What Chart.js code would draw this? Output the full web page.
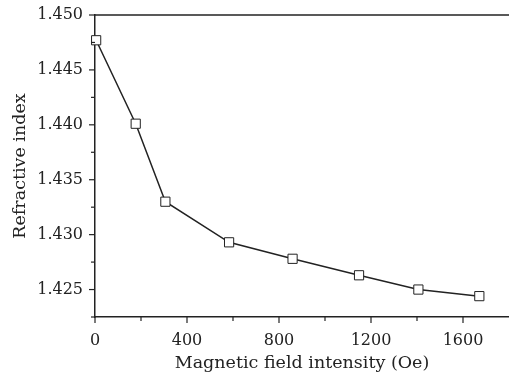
<!DOCTYPE html>
<html>
<head>
<meta charset="utf-8">
<script src="https://cdn.jsdelivr.net/npm/chart.js@4/dist/chart.umd.min.js"></script>
<style>
  html, body { margin: 0; padding: 0; background: #fff; }
  #wrap { width: 509px; height: 377px; }
</style>
</head>
<body>
<div id="wrap"><canvas id="myChart"></canvas></div>
<script>
// data
const fieldOe = [5, 177, 306, 583, 859, 1148, 1406, 1671];
const refIndex = [1.4477, 1.4401, 1.4330, 1.4293, 1.4278, 1.4263, 1.4250, 1.4244];

const xTitle = 'Magnetic field intensity (Oe)';
const yTitle = 'Refractive index';

const ink = '#222';
const tickFont = { family: '"DejaVu Serif", "Liberation Serif", serif', size: 16 };
const titleFont = { family: '"DejaVu Serif", "Liberation Serif", serif', size: 17.5 };

const isMajor = (v, step) => Math.abs(v / step - Math.round(v / step)) < 1e-6;

// outward tick marks (long on labelled ticks, short otherwise) + top frame line
const frame = {
    id: 'frame',
    afterDraw(chart) {
        const ctx = chart.ctx;
        const area = chart.chartArea;
        const xs = chart.scales.x, ys = chart.scales.y;
        ctx.save();
        ctx.strokeStyle = ink;
        ctx.lineWidth = 1.5;
        ctx.beginPath();
        ctx.moveTo(area.left, area.top);
        ctx.lineTo(chart.width, area.top);
        ctx.stroke();
        ctx.lineWidth = 1.2;
        xs.ticks.forEach(t => {
            if (t.value >= xs.max) return; // right edge, cut off in the original
            const px = xs.getPixelForValue(t.value);
            const len = isMajor(t.value, 400) ? 6 : 4;
            ctx.beginPath();
            ctx.moveTo(px, area.bottom);
            ctx.lineTo(px, area.bottom + len);
            ctx.stroke();
        });
        ys.ticks.forEach(t => {
            const py = ys.getPixelForValue(t.value);
            const len = isMajor(t.value, 0.005) ? 6 : 4;
            ctx.beginPath();
            ctx.moveTo(area.left, py);
            ctx.lineTo(area.left - len, py);
            ctx.stroke();
        });
        ctx.restore();
    }
};

const data = {
    datasets: [{
        data: fieldOe.map((x, i) => ({ x: x, y: refIndex[i] })),
        showLine: true,
        borderColor: ink,
        borderWidth: 1.5,
        pointStyle: 'rect',
        pointRadius: 6.5,
        pointBackgroundColor: '#fff',
        pointBorderColor: ink,
        pointBorderWidth: 1,
        tension: 0,
        clip: false
    }]
};

const options = {
    responsive: true,
    maintainAspectRatio: false,
    animation: false,
    layout: { autoPadding: false, padding: { top: 15, right: 0, left: 0, bottom: 0 } },
    plugins: {
        legend: { display: false },
        tooltip: { enabled: false }
    },
    scales: {
        x: {
            type: 'linear',
            min: 0,
            max: 1800,
            afterFit: s => { s.height = 60; s.paddingLeft = 0; s.paddingRight = 0; },
            grid: { display: false, drawTicks: true, tickLength: 6 },
            border: { color: ink, width: 1.5 },
            ticks: {
                stepSize: 200,
                padding: 8,
                color: ink,
                font: tickFont,
                maxRotation: 0,
                minRotation: 0,
                autoSkip: false,
                callback: v => (isMajor(v, 400) && v < 1800 ? String(Math.round(v)) : '')
            },
            title: { display: true, text: xTitle, color: ink, font: titleFont, padding: { top: 0, bottom: 3 } }
        },
        y: {
            min: 1.4225,
            max: 1.45,
            afterFit: s => { s.width = 95; s.paddingTop = 0; s.paddingBottom = 0; },
            grid: { display: false, drawTicks: true, tickLength: 6 },
            border: { color: ink, width: 1.5 },
            ticks: {
                stepSize: 0.0025,
                padding: 6,
                color: ink,
                font: tickFont,
                autoSkip: false,
                callback: v => (isMajor(v, 0.005) ? v.toFixed(3) : '')
            },
            title: { display: true, text: yTitle, color: ink, font: titleFont, padding: { top: 10, bottom: 0 } }
        }
    }
};

const config = {
    type: 'scatter',
    data,
    options,
    plugins: [frame]
};

const myChart = new Chart(document.getElementById('myChart'), config);
</script>
</body>
</html>
